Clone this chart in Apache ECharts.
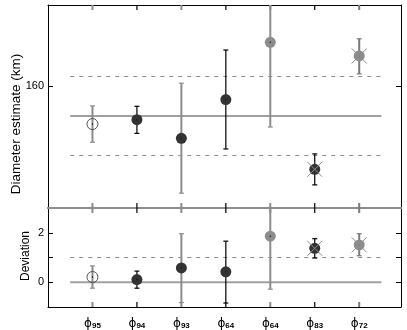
<!DOCTYPE html>
<html>
<head>
<meta charset="utf-8">
<script src="https://cdn.jsdelivr.net/npm/echarts@6/dist/echarts.min.js"></script>
<style>html,body{margin:0;padding:0;background:#fff;}#c{width:407px;height:330px;}</style>
</head>
<body>
<div id="c"></div>
<script>
// ---- data ----
var categories = ['ϕ95', 'ϕ94', 'ϕ93', 'ϕ64', 'ϕ64', 'ϕ83', 'ϕ72'];
var diam      = [140.9, 143.1, 133.7, 153.3, 182.3, 118.0, 175.4];
var diamLow   = [131.7, 136.2, 105.9, 128.3, 139.4, 110.1, 166.3];
var diamHigh  = [150.1, 149.9, 161.6, 178.4, 230.0, 125.8, 184.1];
var diamMean  = 145;
var diamSigma = 20;
var dev       = [0.21, 0.11, 0.58, 0.42, 1.86, 1.37, 1.51];
var devLow    = [-0.24, -0.24, -0.82, -0.84, -0.28, 0.98, 1.07];
var devHigh   = [0.66, 0.45, 1.96, 1.66, 3.60, 1.76, 1.96];
var diamTicks = [160];
var devTicks  = [0, 2];

// ---- styles ----
var barColor   = ['#8c8c8c', '#000', '#8c8c8c', '#000', '#8c8c8c', '#000', '#7a7a7a'];
var barWidth   = [2, 1.2, 2, 1.2, 2, 1.2, 2];
var markerFill = [null, '#333', '#333', '#333', '#8c8c8c', '#333', '#8c8c8c'];
var markerX    = [false, false, false, false, false, true, true];
var FONT = 'Liberation Sans, Arial, sans-serif';

var chart = echarts.init(document.getElementById('c'), null, {renderer: 'canvas'});

function errData(v, lo, hi) {
  return categories.map(function (c, i) { return [i + 1, v[i], lo[i], hi[i], i]; });
}

function renderErr(params, api) {
  var x = api.value(0), y = api.value(1), lo = api.value(2), hi = api.value(3), i = api.value(4);
  var p = api.coord([x, y]), pl = api.coord([x, lo]), ph = api.coord([x, hi]);
  var col = barColor[i], w = barWidth[i], cap = 2.5;
  var ch = [
    {type: 'line', shape: {x1: p[0], y1: pl[1], x2: p[0], y2: ph[1]}, style: {stroke: col, lineWidth: w}},
    {type: 'line', shape: {x1: p[0] - cap, y1: pl[1], x2: p[0] + cap, y2: pl[1]}, style: {stroke: col, lineWidth: 1.2}},
    {type: 'line', shape: {x1: p[0] - cap, y1: ph[1], x2: p[0] + cap, y2: ph[1]}, style: {stroke: col, lineWidth: 1.2}}
  ];
  if (markerFill[i]) {
    ch.push({type: 'circle', shape: {cx: p[0], cy: p[1], r: 5.5}, style: {fill: markerFill[i]}});
  } else {
    ch.push({type: 'circle', shape: {cx: p[0], cy: p[1], r: 5.5}, style: {fill: 'rgba(0,0,0,0)', stroke: '#444', lineWidth: 0.9}});
  }
  ch.push({type: 'circle', shape: {cx: p[0], cy: p[1], r: 0.7}, style: {fill: '#111'}});
  if (markerX[i]) {
    var d = 7.5;
    ch.push({type: 'line', shape: {x1: p[0] - d, y1: p[1] - d, x2: p[0] + d, y2: p[1] + d}, style: {stroke: '#8c8c8c', lineWidth: 1}});
    ch.push({type: 'line', shape: {x1: p[0] - d, y1: p[1] + d, x2: p[0] + d, y2: p[1] - d}, style: {stroke: '#8c8c8c', lineWidth: 1}});
  }
  return {type: 'group', children: ch};
}

function renderTicks(params, api) {
  var x = api.value(0), i = api.value(2);
  var px = api.coord([x, api.value(1)])[0];
  var cs = params.coordSys;
  var col = barColor[i], w = barWidth[i] > 1.5 ? 2 : 1.2, L = 5;
  return {type: 'group', children: [
    {type: 'line', shape: {x1: px, y1: cs.y, x2: px, y2: cs.y + L}, style: {stroke: col, lineWidth: w}},
    {type: 'line', shape: {x1: px, y1: cs.y + cs.height, x2: px, y2: cs.y + cs.height - L}, style: {stroke: col, lineWidth: w}}
  ]};
}

function hline(xi, yi, y, dashed, width) {
  return {
    type: 'line', xAxisIndex: xi, yAxisIndex: yi, symbol: 'none', silent: true,
    data: [[0.5, y], [7.5, y]],
    lineStyle: {color: dashed ? '#8c8c8c' : '#a0a0a0', width: width, type: dashed ? [4, 5] : 'solid'},
    z: 1
  };
}

var xBase = {type: 'value', min: 0, max: 7.94, splitLine: {show: false}, axisTick: {show: false}, axisLabel: {show: false}};
function ax(extra) { return Object.assign({}, xBase, extra); }
function line(color, width) { return {show: true, onZero: false, lineStyle: {color: color, width: width}}; }

var yTickStyle = {show: true, inside: true, length: 5, lineStyle: {color: '#000', width: 1}};

var option = {
  animation: false,
  backgroundColor: '#fff',
  grid: [
    {left: 48, right: 6, top: 5, height: 203},
    {left: 48, right: 6, top: 208, height: 101}
  ],
  xAxis: [
    ax({gridIndex: 0, position: 'bottom', axisLine: line('#8c8c8c', 2)}),
    ax({gridIndex: 0, position: 'top', axisLine: line('#000', 1)}),
    ax({gridIndex: 1, position: 'bottom', axisLine: line('#000', 1),
        axisLabel: {show: true, customValues: [1, 2, 3, 4, 5, 6, 7], margin: 7,
          formatter: function (v) { var c = categories[Math.round(v) - 1]; return '{p|' + c.charAt(0) + '}{s|' + c.slice(1) + '}'; },
          rich: {
            p: {fontFamily: 'DejaVu Sans', fontSize: 12, color: '#000', verticalAlign: 'bottom', lineHeight: 16},
            s: {fontFamily: FONT, fontSize: 8, fontWeight: 'bold', color: '#000', verticalAlign: 'bottom', lineHeight: 16}
          }}}),
    ax({gridIndex: 1, position: 'top', axisLine: line('#8c8c8c', 2)})
  ],
  yAxis: [
    {type: 'value', gridIndex: 0, position: 'left', min: 98.4, max: 201.2, splitLine: {show: false},
     axisLine: line('#000', 1),
     axisTick: Object.assign({customValues: diamTicks}, yTickStyle),
     axisLabel: {customValues: diamTicks, fontFamily: FONT, fontSize: 11, color: '#000', margin: 4}},
    {type: 'value', gridIndex: 0, position: 'right', min: 98.4, max: 201.2, splitLine: {show: false},
     axisLine: line('#000', 1),
     axisTick: Object.assign({customValues: diamTicks}, yTickStyle),
     axisLabel: {show: false}},
    {type: 'value', gridIndex: 1, position: 'left', min: -1, max: 3, interval: 1, splitLine: {show: false},
     axisLine: line('#000', 1),
     axisTick: Object.assign({customValues: [0, 1, 2]}, yTickStyle),
     axisLabel: {customValues: devTicks, fontFamily: FONT, fontSize: 11, color: '#000', margin: 4}},
    {type: 'value', gridIndex: 1, position: 'right', min: -1, max: 3, interval: 1, splitLine: {show: false},
     axisLine: line('#000', 1),
     axisTick: Object.assign({customValues: [0, 1, 2]}, yTickStyle),
     axisLabel: {show: false}}
  ],
  graphic: [
    {type: 'text', x: 16, y: 124, rotation: Math.PI / 2,
     style: {text: 'Diameter estimate (km)', fontFamily: FONT, fontSize: 13.5, fill: '#000', textAlign: 'center', textVerticalAlign: 'middle'}},
    {type: 'text', x: 26, y: 256, rotation: Math.PI / 2,
     style: {text: 'Deviation', fontFamily: FONT, fontSize: 12, fill: '#000', textAlign: 'center', textVerticalAlign: 'middle'}}
  ],
  series: [
    hline(0, 0, diamMean, false, 2),
    hline(0, 0, diamMean + diamSigma, true, 1),
    hline(0, 0, diamMean - diamSigma, true, 1),
    hline(2, 2, 0, false, 2),
    hline(2, 2, 1, true, 1),
    {type: 'custom', xAxisIndex: 0, yAxisIndex: 0, clip: true, silent: true, z: 3,
     renderItem: renderTicks, data: categories.map(function (c, i) { return [i + 1, 98.4, i]; })},
    {type: 'custom', xAxisIndex: 2, yAxisIndex: 2, clip: false, silent: true, z: 3,
     renderItem: renderTicks, data: categories.map(function (c, i) { return [i + 1, -1, i]; })},
    {type: 'custom', xAxisIndex: 0, yAxisIndex: 0, clip: true, silent: true, z: 5,
     renderItem: renderErr, data: errData(diam, diamLow, diamHigh)},
    {type: 'custom', xAxisIndex: 2, yAxisIndex: 2, clip: true, silent: true, z: 5,
     renderItem: renderErr, data: errData(dev, devLow, devHigh)}
  ]
};
chart.setOption(option);
</script>
</body>
</html>
